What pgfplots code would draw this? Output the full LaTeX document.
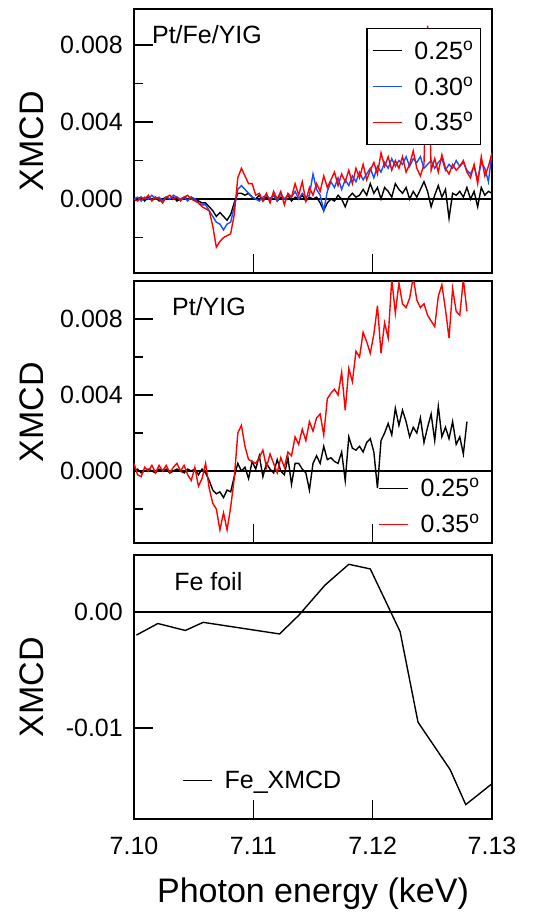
\documentclass[border=0pt]{standalone}
\usepackage{pgfplots}
\pgfplotsset{compat=1.18}
\usepackage{pgfplotstable}
\usepackage{fontspec}
\setmainfont{Liberation Sans}
\definecolor{xblue}{RGB}{20,80,255}
\newcommand\tickfont{\fontsize{25}{30}\selectfont}
\newcommand\labfont{\fontsize{34}{40}\selectfont}
\newcommand\dg{\textsuperscript{o}}

% Pt/Fe/YIG: E, 0.25, 0.30, 0.35 deg
\pgfplotstableread{
E k b r
7.1000 -0.0001 0.0000 0.0000
7.1003 0.0000 0.0001 -0.0001
7.1006 0.0001 -0.0001 0.0001
7.1009 -0.0001 0.0001 0.0000
7.1012 0.0001 0.0000 0.0002
7.1015 0.0000 0.0002 -0.0001
7.1018 0.0001 0.0000 0.0001
7.1021 -0.0001 0.0001 0.0000
7.1024 0.0000 -0.0001 -0.0002
7.1027 0.0001 0.0001 0.0001
7.1030 0.0000 0.0000 0.0002
7.1033 0.0001 0.0002 0.0000
7.1036 -0.0001 0.0001 0.0001
7.1039 0.0000 0.0000 -0.0001
7.1042 0.0001 0.0001 0.0001
7.1045 0.0000 -0.0001 0.0002
7.1048 0.0001 0.0001 0.0000
7.1051 0.0000 0.0000 -0.0001
7.1054 -0.0001 -0.0002 -0.0002
7.1057 -0.0002 -0.0003 -0.0004
7.1060 -0.0002 -0.0003 -0.0005
7.1063 -0.0004 -0.0006 -0.0006
7.1066 -0.0006 -0.0009 -0.0014
7.1069 -0.0009 -0.0012 -0.0025
7.1072 -0.0007 -0.0013 -0.0022
7.1075 -0.0009 -0.0016 -0.0020
7.1078 -0.0011 -0.0013 -0.0019
7.1081 -0.0008 -0.0012 -0.0018
7.1084 -0.0002 -0.0004 -0.0008
7.1087 0.0003 0.0005 0.0011
7.1090 0.0003 0.0007 0.0016
7.1093 0.0002 0.0005 0.0012
7.1096 0.0003 0.0003 0.0008
7.1099 0.0001 0.0001 0.0008
7.1102 0.0000 0.0000 0.0002
7.1105 0.0002 -0.0001 0.0003
7.1108 -0.0001 0.0001 -0.0001
7.1111 0.0001 0.0002 0.0003
7.1114 0.0000 0.0000 -0.0002
7.1117 0.0002 0.0002 0.0004
7.1120 -0.0001 -0.0001 0.0000
7.1123 0.0001 0.0003 0.0004
7.1126 0.0000 0.0000 -0.0003
7.1129 0.0002 0.0002 0.0003
7.1132 -0.0001 0.0001 0.0001
7.1135 0.0001 0.0004 0.0008
7.1138 0.0000 0.0000 0.0002
7.1141 0.0002 0.0003 0.0009
7.1144 -0.0001 0.0001 -0.0001
7.1147 0.0001 0.0002 0.0006
7.1150 0.0000 0.0013 0.0002
7.1153 0.0001 0.0005 0.0008
7.1156 -0.0002 0.0002 0.0004
7.1159 -0.0006 -0.0006 0.0012
7.1162 -0.0002 0.0004 0.0006
7.1165 0.0000 0.0009 0.0010
7.1168 -0.0001 0.0006 0.0014
7.1171 0.0002 0.0011 0.0007
7.1174 0.0000 0.0005 0.0013
7.1177 -0.0004 0.0010 0.0009
7.1180 0.0001 0.0007 0.0015
7.1183 0.0003 0.0012 0.0008
7.1186 0.0001 0.0009 0.0016
7.1189 0.0002 0.0014 0.0011
7.1192 0.0005 0.0010 0.0018
7.1195 0.0002 0.0013 0.0010
7.1198 0.0008 0.0016 0.0015
7.1201 0.0003 0.0011 0.0019
7.1204 0.0006 0.0017 0.0013
7.1207 0.0000 0.0014 0.0024
7.1210 0.0006 0.0019 0.0017
7.1213 0.0004 0.0016 0.0022
7.1216 0.0001 0.0021 0.0015
7.1219 0.0008 0.0017 0.0020
7.1222 0.0005 0.0020 0.0016
7.1225 0.0003 0.0018 0.0022
7.1228 0.0006 0.0022 0.0014
7.1231 0.0000 0.0017 0.0018
7.1234 0.0004 0.0021 0.0025
7.1237 0.0001 0.0019 0.0016
7.1240 0.0005 0.0022 0.0012
7.1243 0.0009 0.0016 0.0018
7.1246 0.0004 0.0018 0.0090
7.1249 -0.0004 0.0020 0.0015
7.1252 0.0002 0.0016 0.0021
7.1255 0.0007 0.0019 0.0014
7.1258 0.0001 0.0021 0.0023
7.1261 0.0005 0.0015 0.0016
7.1264 -0.0010 0.0018 0.0013
7.1267 0.0003 0.0016 0.0018
7.1270 0.0002 0.0020 0.0015
7.1273 0.0004 0.0017 0.0017
7.1276 0.0001 0.0019 0.0020
7.1279 0.0006 0.0015 0.0014
7.1282 0.0000 0.0013 0.0011
7.1285 0.0004 0.0017 0.0018
7.1288 -0.0004 0.0010 0.0008
7.1291 0.0006 0.0019 0.0022
7.1294 0.0002 0.0016 0.0012
7.1297 0.0004 0.0009 0.0017
7.1300 0.0003 0.0024 0.0024
}\ptfeyig

% Pt/YIG: E, 0.25, 0.35 deg
\pgfplotstableread{
E k r
7.1000 0.0000 0.0004
7.1003 0.0001 -0.0002
7.1006 -0.0001 -0.0003
7.1009 0.0000 0.0002
7.1012 0.0001 0.0000
7.1015 0.0000 0.0003
7.1018 -0.0001 -0.0001
7.1021 0.0001 0.0003
7.1024 0.0000 0.0000
7.1027 0.0001 0.0003
7.1030 -0.0001 -0.0001
7.1033 0.0000 0.0002
7.1036 0.0001 0.0004
7.1039 0.0000 0.0000
7.1042 -0.0001 0.0003
7.1045 0.0001 -0.0002
7.1048 0.0000 -0.0005
7.1051 0.0001 0.0002
7.1054 -0.0002 -0.0008
7.1057 0.0001 -0.0004
7.1060 -0.0001 0.0004
7.1063 -0.0005 -0.0009
7.1066 -0.0010 -0.0017
7.1069 -0.0012 -0.0020
7.1072 -0.0011 -0.0031
7.1075 -0.0014 -0.0022
7.1078 -0.0010 -0.0031
7.1081 -0.0011 -0.0019
7.1084 -0.0003 -0.0004
7.1087 0.0004 0.0020
7.1090 0.0000 0.0024
7.1093 0.0002 0.0013
7.1096 -0.0004 0.0006
7.1099 0.0005 0.0005
7.1102 0.0001 0.0004
7.1105 0.0008 0.0007
7.1108 -0.0003 0.0011
7.1111 0.0004 0.0002
7.1114 0.0001 0.0009
7.1117 -0.0001 0.0004
7.1120 0.0006 -0.0001
7.1123 0.0000 0.0007
7.1126 -0.0002 0.0002
7.1129 0.0007 0.0010
7.1132 -0.0007 0.0008
7.1135 0.0004 0.0018
7.1138 0.0004 0.0014
7.1141 0.0001 0.0022
7.1144 -0.0001 0.0016
7.1147 -0.0010 0.0026
7.1150 0.0004 0.0021
7.1153 0.0008 0.0028
7.1156 0.0004 0.0030
7.1159 0.0013 0.0019
7.1162 0.0006 0.0038
7.1165 0.0007 0.0041
7.1168 0.0005 0.0043
7.1171 0.0004 0.0040
7.1174 0.0010 0.0052
7.1177 -0.0005 0.0032
7.1180 0.0018 0.0054
7.1183 0.0012 0.0047
7.1186 0.0011 0.0063
7.1189 0.0013 0.0060
7.1192 0.0010 0.0073
7.1195 0.0015 0.0068
7.1198 0.0017 0.0062
7.1201 0.0010 0.0072
7.1204 -0.0009 0.0087
7.1207 0.0016 0.0062
7.1210 0.0020 0.0078
7.1213 0.0025 0.0070
7.1216 0.0019 0.0101
7.1219 0.0033 0.0083
7.1222 0.0024 0.0099
7.1225 0.0032 0.0088
7.1228 0.0026 0.0086
7.1231 0.0018 0.0091
7.1234 0.0023 0.0102
7.1237 0.0020 0.0090
7.1240 0.0028 0.0086
7.1243 0.0015 0.0088
7.1246 0.0023 0.0082
7.1249 0.0030 0.0079
7.1252 0.0016 0.0076
7.1255 0.0034 0.0092
7.1258 0.0018 0.0098
7.1261 0.0023 0.0085
7.1264 0.0017 0.0070
7.1267 0.0026 0.0096
7.1270 0.0014 0.0084
7.1273 0.0018 0.0082
7.1276 0.0009 0.0101
7.1279 0.0026 0.0084
}\ptyig

% Fe foil
\pgfplotstableread{
E fe
7.1002 -0.0020
7.1020 -0.0010
7.1043 -0.0016
7.1058 -0.0009
7.1122 -0.0019
7.1138 -0.0003
7.1160 0.0023
7.1180 0.0041
7.1198 0.0037
7.1223 -0.0017
7.1238 -0.0095
7.1265 -0.0136
7.1278 -0.0166
7.1300 -0.0148
}\fefoil

\pgfplotsset{
  xmcd/.style={
    scale only axis, width=358pt, height=264pt,
    xmin=7.10, xmax=7.13,
    axis line style={line width=1.3pt},
    tick style={black, line width=1.3pt},
    major tick length=19pt, minor tick length=9pt,
    tick align=inside,
    xtick={7.10,7.11,7.12,7.13},
    xtick pos=lower, ytick pos=left,
    scaled ticks=false,
    /pgf/number format/assume math mode=true,
    tick label style={font=\tickfont},
    yticklabel style={inner sep=0pt, anchor=east, xshift=-11pt,
      /pgf/number format/.cd, fixed, fixed zerofill, precision=3},
    xticklabel style={inner sep=0pt, anchor=north, yshift=-18pt,
      /pgf/number format/.cd, fixed, fixed zerofill, precision=2},
    ylabel={XMCD},
    label style={font=\labfont},
    ylabel style={at={(rel axis cs:-0.254,0.5)}, anchor=base},
    legend image post style={xscale=1.7},
    legend cell align=left,
  },
}

\begin{document}
\begin{tikzpicture}
\useasboundingbox (0,0) rectangle (534pt,-913pt);

% top panel
\begin{axis}[xmcd, at={(134pt,-9pt)}, anchor=north west,
  ymin=-0.00384, ymax=0.00987,
  ytick={0,0.004,0.008}, minor ytick={-0.002,0.002,0.006},
  xticklabels={},
  legend style={at={(rel axis cs:0.969,0.928)}, anchor=north east,
    draw=black, line width=1.3pt, fill=white, font=\tickfont,
    inner xsep=5pt, inner ysep=10pt, row sep=12pt, column sep=10pt},
  legend cell align=left,
  every legend entry/.append style={inner sep=0pt, text height=18pt, text depth=0pt}]
\addplot[black, line width=1.3pt, forget plot] coordinates {(7.10,0) (7.13,0)};
\addplot[black, line width=1.4pt] table[x=E, y=k] {\ptfeyig};
\addlegendentry{0.25\dg}
\addplot[xblue, line width=1.4pt] table[x=E, y=b] {\ptfeyig};
\addlegendentry{0.30\dg}
\addplot[red, line width=1.4pt] table[x=E, y=r] {\ptfeyig};
\addlegendentry{0.35\dg}
\node[anchor=base west, font=\tickfont, inner sep=0pt] at (rel axis cs:0.05,0.871) {Pt/Fe/YIG};
\end{axis}

% middle panel
\begin{axis}[xmcd, at={(134pt,-281pt)}, anchor=north west, height=262pt,
  ymin=-0.00379, ymax=0.0100,
  ytick={0,0.004,0.008}, minor ytick={-0.002,0.002,0.006},
  xticklabels={},
  legend style={at={(rel axis cs:0.6816,0.255)}, anchor=north west,
    draw=none, fill=none, font=\tickfont,
    inner sep=0pt, row sep=12pt, column sep=10pt},
  every legend entry/.append style={inner sep=0pt, text height=18pt, text depth=0pt}]
\addplot[black, line width=1.3pt, forget plot] coordinates {(7.10,0) (7.13,0)};
\addplot[black, line width=1.4pt] table[x=E, y=k] {\ptyig};
\addlegendentry{0.25\dg}
\addplot[red, line width=1.4pt] table[x=E, y=r] {\ptyig};
\addlegendentry{0.35\dg}
\node[anchor=base west, font=\tickfont, inner sep=0pt] at (rel axis cs:0.106,0.870) {Pt/YIG};
\end{axis}

% bottom panel
\begin{axis}[xmcd, at={(134pt,-555pt)}, anchor=north west,
  ymin=-0.01784, ymax=0.0049,
  ytick={-0.01,0},
  yticklabel style={/pgf/number format/precision=2},
  xlabel={Photon energy (keV)},
  xlabel style={at={(rel axis cs:0.5,-0.318)}, anchor=base, inner sep=0pt},
  legend style={at={(rel axis cs:0.134,0.189)}, anchor=north west,
    draw=none, fill=none, font=\tickfont,
    inner sep=0pt, column sep=10pt},
  every legend entry/.append style={inner sep=0pt, text height=18pt, text depth=0pt}]
\addplot[black, line width=1.3pt, forget plot] coordinates {(7.10,0) (7.13,0)};
\addplot[black, line width=1.4pt] table[x=E, y=fe] {\fefoil};
\addlegendentry{Fe\_XMCD}
\node[anchor=base west, font=\tickfont, inner sep=0pt] at (rel axis cs:0.112,0.864) {Fe foil};
\end{axis}
\end{tikzpicture}
\end{document}
